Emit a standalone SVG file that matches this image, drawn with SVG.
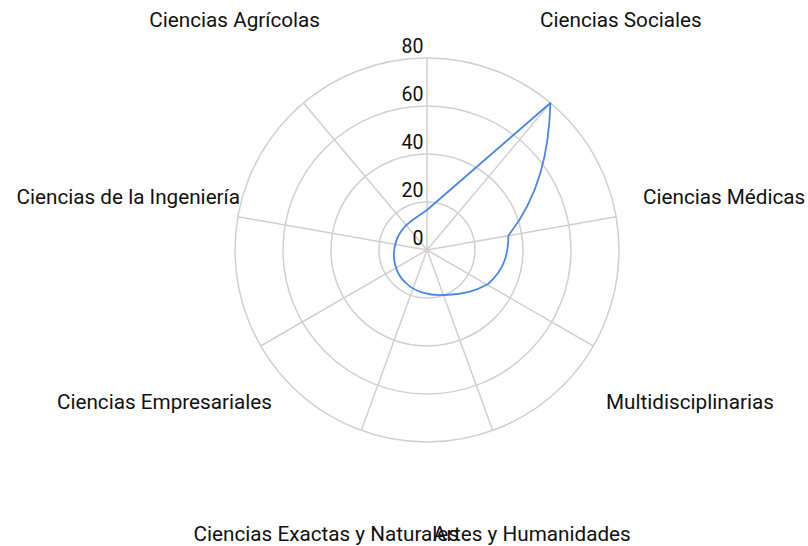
<svg xmlns="http://www.w3.org/2000/svg" width="808" height="546" viewBox="0 0 808 546">
<style>
.grid{fill:none;stroke:#d0d0d0;stroke-width:1.5}
.lbl{font-family:Roboto,"Liberation Sans",sans-serif;font-size:20.7px;fill:#111}
.tick{font-family:Roboto,"Liberation Sans",sans-serif;font-size:19.5px;fill:#111;text-anchor:end}
.data{fill:none;stroke:#4a86e8;stroke-width:1.8;stroke-linejoin:round}
</style>
<rect width="808" height="546" fill="#ffffff"/>
<g id="grid">
<circle class="grid" cx="427" cy="250" r="48"/>
<circle class="grid" cx="427" cy="250" r="96"/>
<circle class="grid" cx="427" cy="250" r="144"/>
<circle class="grid" cx="427" cy="250" r="192"/>
<path class="grid" d="M427,250L427,58M427,250L550.4,102.9M427,250L616.1,216.7M427,250L593.3,346M427,250L492.7,430.4M427,250L361.3,430.4M427,250L260.7,346M427,250L237.9,216.7M427,250L303.6,102.9"/>
</g>
<g id="ticks">
<text class="tick" x="423.5" y="53">80</text>
<text class="tick" x="423.5" y="101">60</text>
<text class="tick" x="423.5" y="149">40</text>
<text class="tick" x="423.5" y="197">20</text>
<text class="tick" x="423.5" y="245">0</text>
</g>
<g id="connectors">
<path class="data" d="M427,210 L550.4,103 C549,150 540,195 508.5,235.5 C508,252 506,268 488,284 C476,291 460,295 445,295 C430,296 414,292 405,282 C397,275 393,262 394,252 C395,240 401,229 410,222 C416,217.5 421,214 427,210 Z"/>
</g>
<g id="label-sociales"><text class="lbl" x="540" y="27">Ciencias Sociales</text></g>
<g id="label-medicas"><text class="lbl" x="643" y="204">Ciencias Médicas</text></g>
<g id="label-multi"><text class="lbl" x="606" y="409">Multidisciplinarias</text></g>
<g id="label-artes"><text class="lbl" x="433" y="541">Artes y Humanidades</text></g>
<g id="label-exactas"><text class="lbl" x="459" y="541" text-anchor="end">Ciencias Exactas y Naturales</text></g>
<g id="label-empresariales"><text class="lbl" x="272" y="409" text-anchor="end">Ciencias Empresariales</text></g>
<g id="label-ingenieria"><text class="lbl" x="240" y="204" text-anchor="end">Ciencias de la Ingeniería</text></g>
<g id="label-agricolas"><text class="lbl" x="320" y="27" text-anchor="end">Ciencias Agrícolas</text></g>
</svg>
